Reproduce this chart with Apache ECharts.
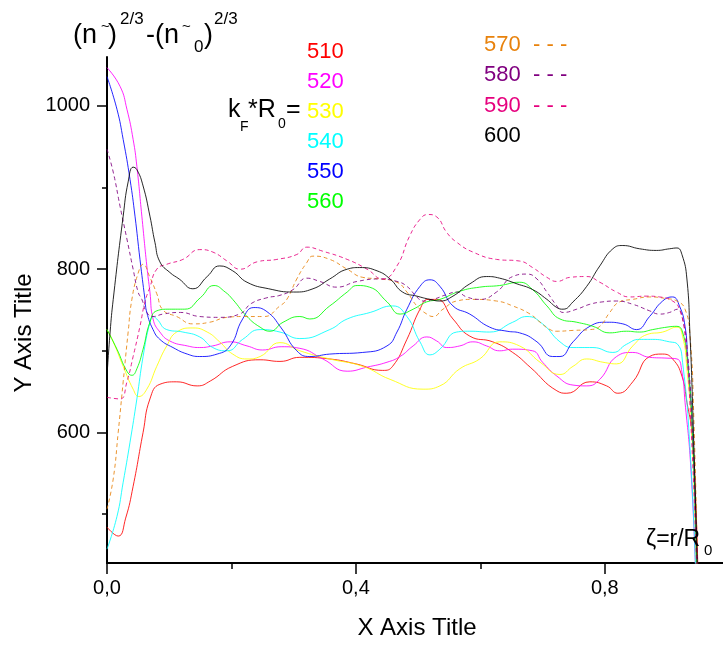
<!DOCTYPE html>
<html><head><meta charset="utf-8">
<script src="https://cdn.jsdelivr.net/npm/echarts@6/dist/echarts.min.js"></script>
<style>html,body{margin:0;padding:0;background:#fff}#c{width:723px;height:648px}</style>
</head><body><div id="c"></div>
<script>
// ---- data ----
const seriesNames = ['510','520','530','540','550','560','570','580','590','600'];
const seriesColors = ['#FF0000','#FF00FF','#FFFF00','#00FFFF','#0000FF','#00FF00','#E8820C','#800080','#E6007E','#000000'];
const seriesDashed = [false,false,false,false,false,false,true,true,true,false];
const xMajor = [0, 0.4, 0.8];
const xMinor = [0.2, 0.6];
const yMajor = [600, 800, 1000];
const yMinor = [500, 700, 900];

const s510 = [[0,484],[0.018,473],[0.030,495],[0.042,534],[0.058,600],[0.069,641],[0.085,659],[0.112,662],[0.145,657],[0.166,663],[0.202,681],[0.246,689],[0.278,687],[0.31,692],[0.358,690],[0.40,684],[0.443,676],[0.459,681],[0.482,714],[0.503,751],[0.516,763],[0.53,763],[0.556,739],[0.583,718],[0.62,711],[0.652,698],[0.68,680],[0.723,651],[0.739,648],[0.776,662],[0.803,657],[0.821,648],[0.845,662],[0.872,693],[0.893,696],[0.909,690],[0.924,669],[0.932,637],[0.94,600],[0.946,520],[0.95,420]];
const s520 = [[0,1047],[0.021,1024],[0.032,996],[0.042,959],[0.048,926],[0.056,865],[0.064,804],[0.069,772],[0.074,739],[0.085,723],[0.101,712],[0.129,706],[0.149,704],[0.170,706],[0.198,711],[0.225,706],[0.250,701],[0.280,705],[0.31,703],[0.347,690],[0.386,675],[0.418,680],[0.45,686],[0.471,693],[0.492,706],[0.514,717],[0.53,712],[0.546,704],[0.567,706],[0.588,711],[0.61,706],[0.631,700],[0.652,702],[0.684,700],[0.70,686],[0.723,669],[0.749,658],[0.771,657],[0.792,665],[0.819,693],[0.845,698],[0.872,692],[0.90,691],[0.916,690],[0.924,674],[0.929,637],[0.938,560],[0.946,430]];
const s530 = [[0,726],[0.01,711],[0.026,681],[0.042,653],[0.051,644],[0.064,653],[0.080,681],[0.096,706],[0.112,723],[0.138,728],[0.161,723],[0.181,711],[0.202,696],[0.225,690],[0.246,693],[0.278,710],[0.31,700],[0.358,690],[0.411,681],[0.455,665],[0.508,653],[0.535,657],[0.567,678],[0.599,690],[0.631,711],[0.663,706],[0.696,686],[0.728,671],[0.749,681],[0.771,690],[0.797,686],[0.819,684],[0.845,706],[0.868,720],[0.893,723],[0.916,729],[0.925,718],[0.932,678],[0.94,600],[0.947,430]];
const s540 = [[0,457],[0.016,497],[0.026,539],[0.037,588],[0.048,641],[0.058,693],[0.069,735],[0.074,742],[0.080,739],[0.096,726],[0.122,723],[0.149,717],[0.170,704],[0.193,700],[0.218,714],[0.246,726],[0.278,723],[0.310,715],[0.358,726],[0.386,739],[0.423,747],[0.459,755],[0.482,742],[0.503,711],[0.519,695],[0.535,702],[0.562,723],[0.583,724],[0.615,723],[0.652,735],[0.675,742],[0.700,733],[0.728,711],[0.749,704],[0.781,704],[0.813,698],[0.835,708],[0.856,714],[0.877,714],[0.904,711],[0.917,708],[0.925,686],[0.937,580],[0.946,430]];
const s550 = [[0,1036],[0.016,996],[0.026,959],[0.037,910],[0.045,865],[0.053,812],[0.061,763],[0.064,747],[0.074,726],[0.085,714],[0.106,704],[0.129,696],[0.149,693],[0.177,696],[0.198,706],[0.218,739],[0.236,753],[0.257,748],[0.280,728],[0.305,700],[0.326,693],[0.358,696],[0.411,698],[0.450,706],[0.466,723],[0.482,751],[0.503,779],[0.519,787],[0.535,779],[0.556,755],[0.583,745],[0.615,729],[0.643,724],[0.663,722],[0.691,711],[0.716,693],[0.728,693],[0.749,711],[0.776,730],[0.803,735],[0.829,733],[0.851,726],[0.872,742],[0.893,761],[0.909,766],[0.920,755],[0.929,730],[0.933,693],[0.941,600],[0.948,430]];
const s560 = [[0,726],[0.016,702],[0.032,675],[0.040,670],[0.048,678],[0.058,702],[0.069,735],[0.080,749],[0.100,751],[0.125,751],[0.150,765],[0.172,780],[0.19,772],[0.202,763],[0.225,742],[0.246,729],[0.262,724],[0.283,735],[0.31,742],[0.326,739],[0.358,755],[0.386,772],[0.402,780],[0.422,778],[0.45,760],[0.471,745],[0.492,751],[0.514,760],[0.535,763],[0.567,773],[0.599,778],[0.631,780],[0.663,784],[0.684,775],[0.707,755],[0.728,739],[0.755,735],[0.781,730],[0.808,722],[0.835,724],[0.856,723],[0.877,726],[0.90,729],[0.916,730],[0.925,723],[0.933,686],[0.941,600],[0.948,430]];
const s570 = [[0,506],[0.01,543],[0.018,600],[0.026,662],[0.034,723],[0.040,763],[0.050,795],[0.058,806],[0.069,790],[0.080,770],[0.090,750],[0.112,742],[0.138,733],[0.165,735],[0.193,741],[0.219,742],[0.252,742],[0.278,755],[0.289,763],[0.305,788],[0.321,808],[0.331,816],[0.358,812],[0.386,800],[0.411,790],[0.439,788],[0.466,784],[0.482,772],[0.498,755],[0.514,745],[0.524,742],[0.54,751],[0.562,761],[0.588,763],[0.626,761],[0.652,755],[0.68,745],[0.696,735],[0.712,726],[0.723,724],[0.749,725],[0.776,726],[0.792,730],[0.808,747],[0.824,760],[0.845,763],[0.872,766],[0.899,764],[0.916,761],[0.929,751],[0.937,718],[0.943,620],[0.949,430]];
const s580 = [[0,947],[0.01,919],[0.021,877],[0.032,837],[0.042,800],[0.05,772],[0.056,763],[0.064,747],[0.074,742],[0.09,745],[0.118,747],[0.149,742],[0.181,741],[0.213,745],[0.232,758],[0.257,765],[0.278,768],[0.299,775],[0.321,789],[0.342,785],[0.369,778],[0.402,785],[0.439,788],[0.466,785],[0.482,779],[0.498,766],[0.508,761],[0.524,763],[0.546,769],[0.562,772],[0.578,766],[0.599,763],[0.626,772],[0.652,791],[0.675,794],[0.691,788],[0.707,772],[0.723,755],[0.733,747],[0.755,751],[0.776,757],[0.797,760],[0.819,761],[0.845,757],[0.872,749],[0.888,745],[0.904,747],[0.917,751],[0.925,739],[0.933,698],[0.941,600],[0.949,430]];
const s590 = [[0,643],[0.021,641],[0.032,662],[0.042,693],[0.053,730],[0.061,760],[0.069,778],[0.08,800],[0.096,806],[0.122,812],[0.149,824],[0.170,821],[0.193,810],[0.214,800],[0.241,809],[0.273,812],[0.305,818],[0.321,827],[0.347,822],[0.386,812],[0.418,800],[0.443,788],[0.466,804],[0.486,840],[0.503,861],[0.516,867],[0.530,864],[0.546,845],[0.562,833],[0.588,821],[0.626,812],[0.663,810],[0.684,802],[0.707,790],[0.723,785],[0.744,790],[0.771,791],[0.792,784],[0.819,772],[0.84,766],[0.867,767],[0.888,766],[0.909,761],[0.92,751],[0.929,718],[0.939,600],[0.948,430]];
const s600 = [[0,669],[0.005,723],[0.01,763],[0.026,865],[0.034,907],[0.042,925],[0.048,922],[0.058,902],[0.069,865],[0.077,833],[0.085,809],[0.101,796],[0.116,788],[0.138,776],[0.161,791],[0.181,804],[0.202,798],[0.225,784],[0.260,776],[0.300,772],[0.331,776],[0.358,788],[0.386,800],[0.406,802],[0.434,798],[0.455,788],[0.475,772],[0.498,767],[0.519,763],[0.535,761],[0.556,767],[0.583,782],[0.61,791],[0.631,789],[0.659,782],[0.684,775],[0.707,763],[0.723,753],[0.733,751],[0.749,760],[0.771,779],[0.792,804],[0.813,825],[0.829,829],[0.856,825],[0.883,823],[0.904,825],[0.916,826],[0.924,818],[0.932,788],[0.937,718],[0.941,637],[0.949,430]];
const seriesData = [s510,s520,s530,s540,s550,s560,s570,s580,s590,s600];

// ---- chart ----
const FONT = '"Liberation Sans", Arial, sans-serif';
const chart = echarts.init(document.getElementById('c'), null, {renderer:'canvas'});
const fmtX = v => v.toFixed(1).replace('.', ',');
const fmtY = v => String(Math.round(v));

function txt(text, x, y, size, color, extra) {
  return Object.assign({
    type: 'text', x: x, y: y, z: 100,
    style: { text: text, font: size + 'px ' + FONT, fill: color || '#000', align: 'left', verticalAlign: 'middle' }
  }, extra || {});
}

const graphics = [
  // title (n~)^{2/3}-(n~_0)^{2/3}
  txt('(n', 73, 36, 27),
  txt('~', 101, 27, 15),
  txt(')', 108, 36, 27),
  txt('2/3', 120, 19, 17),
  txt('-(n', 146, 36, 27),
  txt('~', 182, 27, 15),
  txt('0', 194, 47, 17),
  txt(')', 204, 36, 27),
  txt('2/3', 214, 19, 17),
  // k_F*R_0=
  txt('k', 228, 110, 25),
  txt('F', 240, 127, 14),
  txt('*R', 248, 110, 25),
  txt('0', 278, 124, 14),
  txt('=', 286, 110, 25),
  // zeta
  txt('\u03B6=r/R', 646, 540, 23),
  txt('0', 704, 551, 15),
  // axis titles
  { type: 'text', x: 417, y: 628, z: 100, style: { text: 'X Axis Title', font: '24px ' + FONT, fill: '#000', align: 'center', verticalAlign: 'middle' } },
  { type: 'text', x: 24, y: 333, rotation: Math.PI / 2, z: 100, style: { text: 'Y Axis Title', font: '24px ' + FONT, fill: '#000', align: 'center', verticalAlign: 'middle' } }
];
// series labels
const labelPos = [[307,52],[307,82],[307,112],[307,142],[307,172],[307,202],[484,45],[484,75],[484,106],[484,136]];
seriesNames.forEach((n, i) => {
  graphics.push(txt(n, labelPos[i][0], labelPos[i][1], 22, seriesColors[i]));
  if (seriesDashed[i]) graphics.push(txt('- - -', 533, labelPos[i][1], 22, seriesColors[i]));
});

const axisCommon = { type: 'value', splitLine: { show: false } };
const option = {
  animation: false,
  backgroundColor: '#fff',
  grid: { left: 107, right: 0, top: 57, bottom: 85, containLabel: false },
  xAxis: [
    Object.assign({}, axisCommon, {
      min: 0, max: 0.99, position: 'bottom',
      axisLine: { show: true, lineStyle: { color: '#000', width: 2 } },
      axisTick: { show: true, customValues: xMajor, length: 11, lineStyle: { color: '#000', width: 1.5 } },
      axisLabel: { show: true, customValues: xMajor, formatter: fmtX, fontSize: 20, color: '#000', fontFamily: FONT, margin: 15 }
    }),
    Object.assign({}, axisCommon, {
      min: 0, max: 0.99, position: 'bottom',
      axisLine: { show: false },
      axisTick: { show: true, customValues: xMinor, length: 6, lineStyle: { color: '#000', width: 1.5 } },
      axisLabel: { show: false }
    })
  ],
  yAxis: [
    Object.assign({}, axisCommon, {
      min: 440, max: 1060, position: 'left',
      axisLine: { show: true, lineStyle: { color: '#000', width: 2 } },
      axisTick: { show: true, customValues: yMajor, length: 10, lineStyle: { color: '#000', width: 1.5 } },
      axisLabel: { show: true, customValues: yMajor, formatter: fmtY, fontSize: 20, color: '#000', fontFamily: FONT, margin: 17 }
    }),
    Object.assign({}, axisCommon, {
      min: 440, max: 1060, position: 'left',
      axisLine: { show: false },
      axisTick: { show: true, customValues: yMinor, length: 5, lineStyle: { color: '#000', width: 1.5 } },
      axisLabel: { show: false }
    })
  ],
  series: seriesNames.map((n, i) => ({
    name: n, type: 'line', xAxisIndex: 0, yAxisIndex: 0,
    data: seriesData[i], showSymbol: false, smooth: 0.5, clip: true,
    lineStyle: { color: seriesColors[i], width: 1, type: seriesDashed[i] ? [4, 3] : 'solid', opacity: 0.85 },
    z: 2
  })),
  graphic: graphics
};
chart.setOption(option);
</script></body></html>
